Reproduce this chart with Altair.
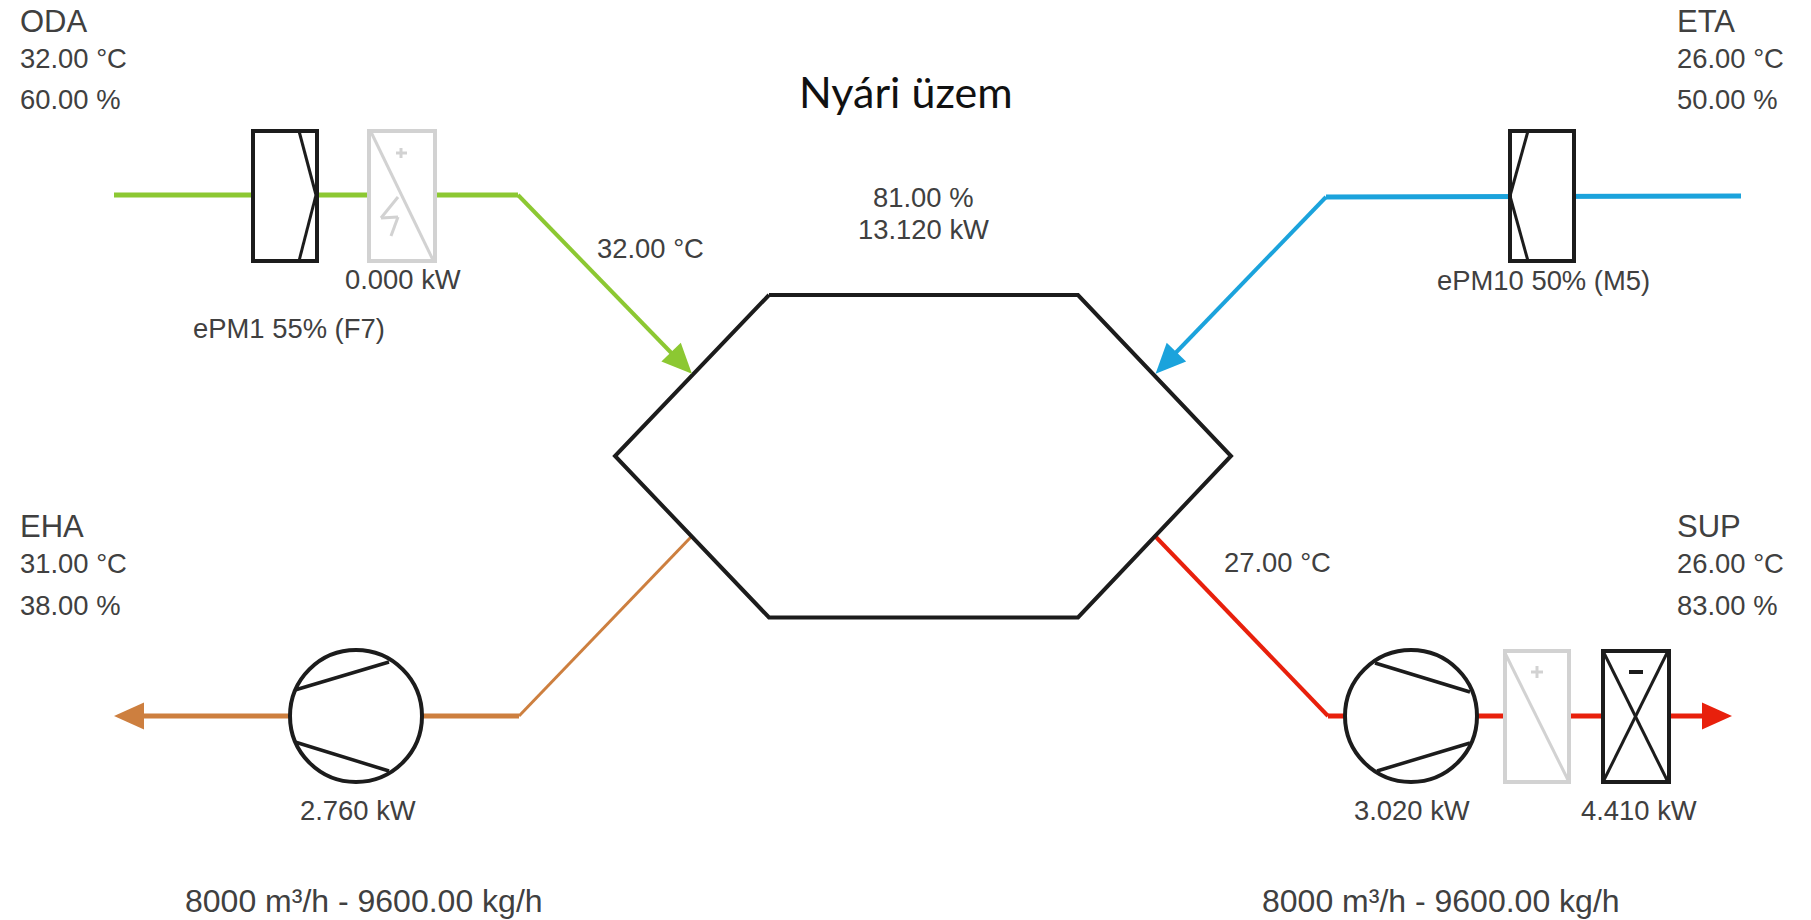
import altair as alt
import pandas as pd

# ---- text content (label, left x, baseline y)
station_names = [("ODA", 20, 32), ("ETA", 1677, 32), ("EHA", 20, 537), ("SUP", 1677, 537)]
readings = [
    ("32.00 °C", 20, 68), ("60.00 %", 20, 109),
    ("26.00 °C", 1677, 68), ("50.00 %", 1677, 109),
    ("31.00 °C", 20, 573), ("38.00 %", 20, 615),
    ("26.00 °C", 1677, 573), ("83.00 %", 1677, 615),
    ("0.000 kW", 345, 289), ("ePM1 55% (F7)", 193, 338), ("32.00 °C", 597, 258),
    ("81.00 %", 873, 207), ("13.120 kW", 858, 239),
    ("ePM10 50% (M5)", 1437, 290), ("27.00 °C", 1224, 572),
    ("2.760 kW", 300, 820), ("3.020 kW", 1354, 820), ("4.410 kW", 1581, 820),
]
flow_labels = [("8000 m³/h - 9600.00 kg/h", 185, 912), ("8000 m³/h - 9600.00 kg/h", 1262, 912)]
title_label = [("Nyári üzem", 799, 108)]

# ---- exchanger outline, in drawing order
hex_x = [769, 1078, 1231, 1078, 769, 615, 769]
hex_y = [295, 295, 456, 617.5, 617.5, 456, 295]

# ---- duct runs: (x1, y1, x2, y2)
green_main = [(114, 195, 518, 195)]
green_diag = [(518, 195, 685, 367)]
blue_main = [(1326, 197, 1741, 196)]
blue_diag = [(1326, 197, 1162, 367)]
orange_main = [(140, 716, 519, 716)]
orange_diag = [(519, 716, 691, 537)]
red_main = [(1328, 716, 1705, 716)]
red_diag = [(1154, 535, 1328, 716)]

# ---- arrow heads: (centre x, centre y, heading in degrees)
green_head = [(681.5, 363, 46)]
blue_head = [(1166, 363, 134)]
orange_head = [(129, 716, 180)]
red_head = [(1717, 716, 0)]

# ---- component boxes: (x1, y1, x2, y2)
dark_boxes = [(253, 131, 317, 261), (1510, 131, 1574, 261), (1603, 651, 1669, 782)]
light_boxes = [(369, 131, 435, 261), (1505, 651, 1569, 782)]

# ---- component details: (x1, y1, x2, y2)
filter_vanes = [
    (299, 131, 316, 195), (316, 195, 299, 261),
    (1528, 131, 1510, 196), (1510, 196, 1528, 261),
]
fan_blades = [
    (295, 690, 389, 662), (295, 742, 389, 771),
    (1375, 663, 1470, 692), (1377, 771, 1470, 743),
]
cooler_cross = [(1604, 653, 1667, 780), (1667, 653, 1604, 780)]
cooler_minus = [(1629, 672, 1643, 672)]
light_details = [
    (371, 132, 433, 260), (1505, 653, 1568, 780),
    (396, 153, 407, 153), (401, 148, 401, 158),
    (1531, 672, 1543, 672), (1537, 666, 1537, 678),
    (398, 197, 381, 218), (381, 218, 398, 217), (398, 217, 391, 236),
]

# ---- fans: (centre x, centre y)
fan_centres = [(356, 716), (1411, 716)]

x_scale = alt.Scale(domain=[8, 1803], range=[0, 1795], nice=False, zero=False)
y_scale = alt.Scale(domain=[920, 8], range=[912, 0], nice=False, zero=False)
X = alt.X("x:Q", scale=x_scale, axis=None)
Y = alt.Y("y:Q", scale=y_scale, axis=None)
X1 = alt.X("x1:Q", scale=x_scale, axis=None)
Y1 = alt.Y("y1:Q", scale=y_scale, axis=None)


def seg_frame(rows):
    return pd.DataFrame(rows, columns=["x1", "y1", "x2", "y2"])


def segs(rows, color, width):
    return alt.Chart(seg_frame(rows)).mark_rule(color=color, strokeWidth=width).encode(
        x=X1, y=Y1, x2="x2:Q", y2="y2:Q"
    )


def boxes(rows, color, width):
    return alt.Chart(seg_frame(rows)).mark_rect(fill="white", stroke=color, strokeWidth=width).encode(
        x=X1, y=Y1, x2="x2:Q", y2="y2:Q"
    )


def head(rows, color):
    df = pd.DataFrame(rows, columns=["x", "y", "heading"])
    return alt.Chart(df).mark_point(
        shape="M-1,-0.9L1,0L-1,0.9Z", filled=True, fill=color, opacity=1, size=900, strokeWidth=0
    ).encode(x=X, y=Y, angle=alt.Angle("heading:Q", scale=None))


def labels(rows, size, color, font="Liberation Sans"):
    df = pd.DataFrame(rows, columns=["t", "x", "y"])
    return alt.Chart(df).mark_text(
        align="left", baseline="alphabetic", fontSize=size, font=font, color=color
    ).encode(x=X, y=Y, text="t:N")


GREEN, BLUE, ORANGE, RED = "#8cc832", "#1ba3dc", "#cd7f3f", "#e8200c"
DARK, LIGHT, TEXT = "#1c1c1c", "#d2d2d2", "#404040"

hexagon = alt.Chart(
    pd.DataFrame({"x": hex_x, "y": hex_y, "i": list(range(len(hex_x)))})
).mark_line(color=DARK, strokeWidth=4, strokeJoin="miter").encode(x=X, y=Y, order="i:Q")

fans = alt.Chart(pd.DataFrame(fan_centres, columns=["x", "y"])).mark_point(
    shape="circle", filled=False, fill="white", fillOpacity=1, stroke=DARK,
    strokeWidth=4, opacity=1, size=17424
).encode(x=X, y=Y)

chart = alt.layer(
    segs(green_main, GREEN, 5), segs(green_diag, GREEN, 4),
    segs(blue_main, BLUE, 5), segs(blue_diag, BLUE, 4),
    segs(orange_main, ORANGE, 5), segs(orange_diag, ORANGE, 3),
    segs(red_main, RED, 5), segs(red_diag, RED, 4),
    hexagon,
    head(green_head, GREEN), head(blue_head, BLUE), head(orange_head, ORANGE), head(red_head, RED),
    boxes(light_boxes, LIGHT, 4), segs(light_details, LIGHT, 3),
    boxes(dark_boxes, DARK, 4),
    segs(filter_vanes, DARK, 3), segs(cooler_cross, DARK, 3), segs(cooler_minus, DARK, 4),
    fans, segs(fan_blades, DARK, 3.5),
    labels(station_names, 31, TEXT),
    labels(readings, 27.4, TEXT),
    labels(flow_labels, 32, TEXT),
    labels(title_label, 43, "#111111", font="Lato"),
).properties(
    width=1795, height=912, padding=0,
    autosize=alt.AutoSizeParams(type="none"),
    background="white",
).configure_view(stroke=None)

chart.save("out.html", embed_options={"renderer": "svg", "actions": False})
